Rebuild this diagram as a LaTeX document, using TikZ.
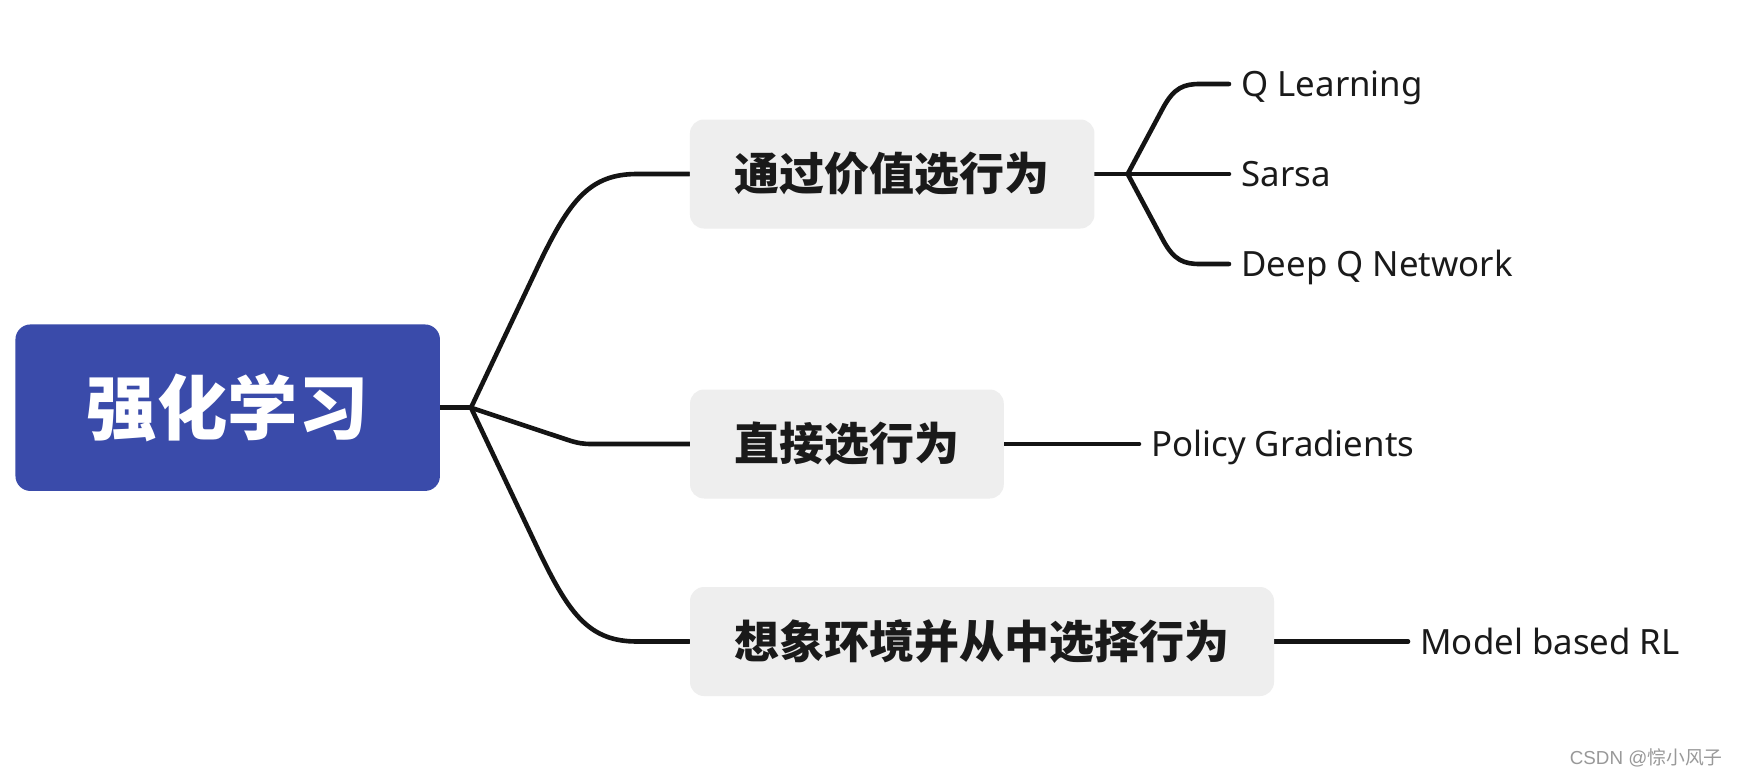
\documentclass[tikz,border=0pt]{standalone}
\usepackage{fontspec}
\setmainfont{Noto Sans}
\newfontfamily\cjk{Noto Sans CJK SC}
\newfontfamily\wmlatin{Liberation Sans}
\definecolor{rootc}{HTML}{3A4BAA}
\definecolor{boxc}{HTML}{EEEEEE}
\definecolor{linec}{HTML}{141414}
\definecolor{textc}{HTML}{1A1A1A}
\definecolor{wmc}{HTML}{999999}
\pgfdeclarelayer{background}
\pgfsetlayers{background,main}
\begin{document}
\begin{tikzpicture}[x=0.5pt,y=-0.5pt,
  conn/.style={line width=2.3pt, draw=linec, line cap=round, line join=round},
  rootbox/.style={fill=rootc, rounded corners=7.5pt, minimum width=212.25pt, minimum height=83.25pt, inner sep=0pt, text=white, font=\cjk\bfseries\fontsize{35.2}{40}\selectfont},
  topicbox/.style={fill=boxc, rounded corners=7pt, minimum height=54.5pt, inner sep=0pt, text=textc, font=\cjk\bfseries\fontsize{22.5}{26}\selectfont},
  leaf/.style={anchor=west, inner sep=0pt, text height=12.6pt, text depth=0pt, text=textc, font=\fontsize{17.4}{20}\selectfont},
]
\useasboundingbox (0,0) rectangle (1737,776);
\begin{pgfonlayer}{background}
\fill[white] (0,0) rectangle (1737,776);
\end{pgfonlayer}

% main nodes
\node[rootbox] (root) at (227.7,407.7) {强化学习};
\node[topicbox, minimum width=202.25pt] (t1) at (892.2,174) {通过价值选行为};
\node[topicbox, minimum width=156.85pt] (t2) at (846.9,444) {直接选行为};
\node[topicbox, minimum width=292pt] (t3) at (982,641.5) {想象环境并从中选择行为};

% leaves
\node[leaf] (ql) at (1241,84) {Q Learning};
\node[leaf] (sa) at (1241,174) {Sarsa};
\node[leaf] (dq) at (1241,264) {Deep Q Network};
\node[leaf] (pg) at (1151,444) {Policy Gradients};
\node[leaf] (mb) at (1420,641.5) {Model based RL};

% watermark
\node[anchor=east, inner sep=0pt, text=wmc, font=\fontsize{9.4}{11}\selectfont] (wm) at (1723,757.7) {\wmlatin CSDN @\cjk 悰小风子};

\coordinate (b0) at (471,407.7);
\coordinate (b1) at (1127.7,174);

\begin{pgfonlayer}{background}
\draw[conn] (root.east) -- (b0);
\draw[conn] (b0) -- (540,262) .. controls (570,200) and (590,174) .. (637,174) -- (t1.west);
\draw[conn] (b0) -- (568,440) .. controls (578,443.2) and (583,444) .. (592,444) -- (t2.west);
\draw[conn] (b0) -- (540,553.4) .. controls (570,615.5) and (590,641.5) .. (637,641.5) -- (t3.west);

\draw[conn] (t1.east) -- (b1);
\draw[conn] (b1) -- (1163,108) .. controls (1174,87.5) and (1184,84) .. (1200,84) -- ([xshift=-6pt]ql.west);
\draw[conn] (b1) -- ([xshift=-6pt]sa.west);
\draw[conn] (b1) -- (1163,240) .. controls (1174,260.5) and (1184,264) .. (1200,264) -- ([xshift=-6pt]dq.west);

\draw[conn] (t2.east) -- ([xshift=-6pt]pg.west);
\draw[conn] (t3.east) -- ([xshift=-6pt]mb.west);
\end{pgfonlayer}
\end{tikzpicture}
\end{document}
